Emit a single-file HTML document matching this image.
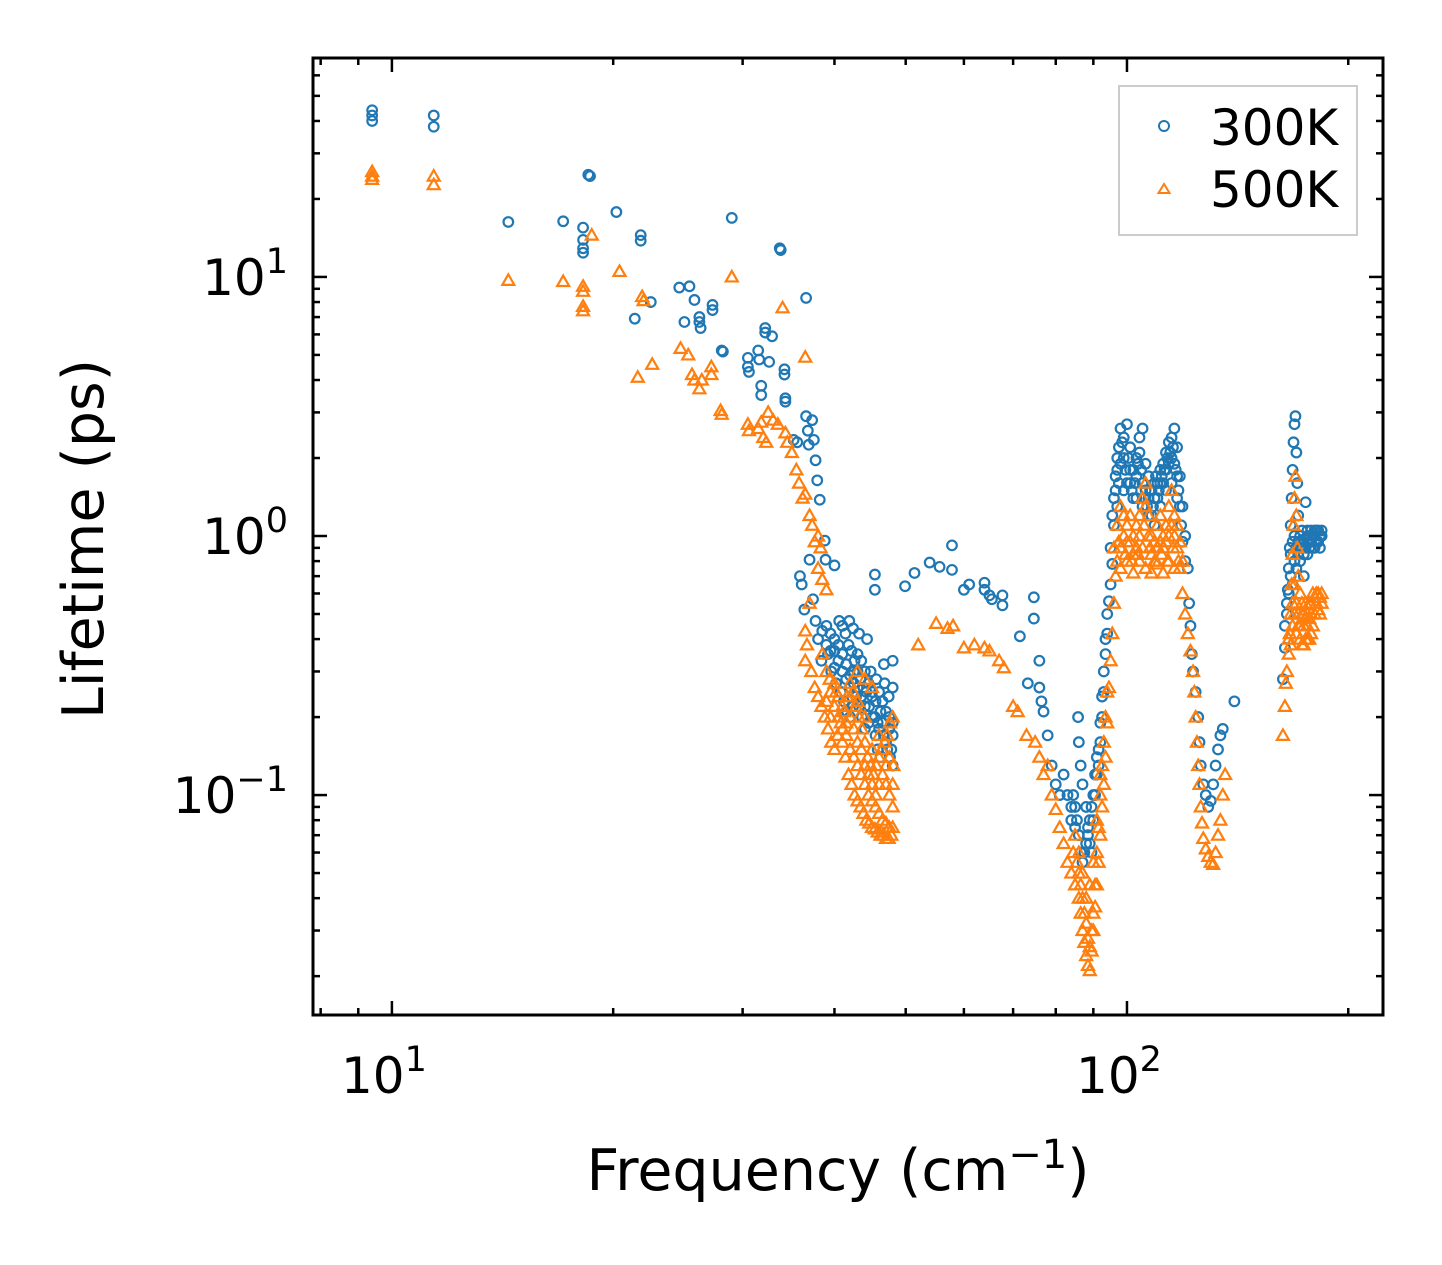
<!DOCTYPE html>
<html><head><meta charset="utf-8">
<style>
html,body{margin:0;padding:0;background:#fff;}
svg{display:block;font-family:"DejaVu Sans","Liberation Sans",sans-serif;}
</style></head>
<body>
<svg id="chart" width="1442" height="1265" viewBox="0 0 1442 1265" xmlns="http://www.w3.org/2000/svg">
<rect width="1442" height="1265" fill="#fff"/>
<g id="marks"></g>
<g id="axes"></g>
<text x="838" y="1190" font-size="57" text-anchor="middle">Frequency (cm<tspan dy="-22" font-size="40">−1</tspan><tspan dy="22">)</tspan></text>
<text transform="translate(103,539) rotate(-90)" font-size="57" text-anchor="middle">Lifetime (ps)</text>
<g>
<rect x="1119" y="86" width="238" height="149" fill="#fff" stroke="#ccc" stroke-width="2"/>
<circle cx="1164" cy="126" r="5" fill="none" stroke="#1f77b4" stroke-width="2"/>
<text x="1210" y="145" font-size="50">300K</text>
<polygon points="1164,184 1169.5,193 1158.5,193" fill="none" stroke="#ff7f0e" stroke-width="2"/>
<text x="1210" y="207" font-size="50">500K</text>
</g>
</svg>
<script>
const xDomain=[7.81,223];
const yDomain=[0.01416,70];
const xMajorTicks=[10,100];
const xMajorLabels=["1","2"];
const yMajorTicks=[0.1,1,10];
const yMajorLabels=["−1","0","1"];
const pts300=[[9.4,44],[9.4,42],[9.4,40],[11.4,42],[11.4,38],[14.4,16.3],[17.1,16.4],[18.2,15.5],[18.2,13.9],[18.2,12.9],[18.2,12.4],[18.5,24.8],[18.6,24.5],[20.2,17.8],[21.8,14.5],[21.8,13.8],[21.4,6.9],[22.5,8.0],[24.6,9.1],[25.4,9.2],[25.0,6.7],[25.8,8.15],[26.2,7.0],[26.2,6.7],[26.3,6.35],[27.3,7.8],[27.3,7.45],[28.1,5.2],[28.2,5.15],[29.0,16.9],[30.5,4.87],[30.5,4.5],[30.6,4.3],[31.5,5.2],[31.6,4.8],[31.8,3.8],[31.8,3.5],[32.2,6.35],[32.2,6.1],[32.9,5.9],[32.6,4.7],[33.7,12.9],[33.8,12.7],[34.2,4.4],[34.2,4.2],[34.3,3.4],[34.3,3.3],[35.2,2.35],[35.6,2.3],[36.6,8.3],[36.6,2.9],[36.8,2.55],[36.9,2.25],[37.3,2.8],[37.5,2.35],[37.7,1.96],[37.9,1.64],[38.2,1.38],[38.8,0.96],[38.9,0.81],[35.9,0.7],[36.1,0.65],[36.4,0.52],[37.0,0.81],[37.4,0.57],[37.7,0.47],[38.0,0.40],[38.4,0.33],[40.0,0.77],[40.0,0.40],[40.6,0.47],[41.0,0.45],[41.4,0.42],[41.8,0.38],[42.2,0.36],[42.6,0.33],[43.0,0.30],[43.4,0.28],[43.8,0.26],[44.2,0.25],[39.2,0.35],[39.6,0.30],[40.2,0.27],[40.8,0.25],[41.2,0.23],[41.6,0.21],[42.0,0.20],[42.4,0.22],[42.8,0.24],[43.2,0.22],[43.6,0.20],[44.0,0.18],[44.6,0.22],[45.0,0.24],[45.4,0.20],[45.8,0.19],[46.2,0.21],[46.7,0.17],[47.2,0.15],[47.6,0.14],[48.0,0.13],[45.4,0.71],[45.4,0.62],[46.7,0.32],[48.0,0.33],[48.0,0.26],[47.4,0.24],[46.8,0.27],[44.8,0.30],[45.6,0.28],[49.9,0.64],[51.4,0.72],[53.9,0.79],[55.6,0.76],[57.8,0.92],[57.8,0.74],[60,0.62],[61,0.65],[64,0.66],[64,0.62],[65,0.59],[65.5,0.57],[67.7,0.59],[67.7,0.54],[71.5,0.41],[73.3,0.27],[74.7,0.58],[74.7,0.48],[76,0.33],[76,0.26],[76.5,0.23],[77,0.21],[78,0.17],[79,0.13],[80,0.11],[81,0.10],[82,0.12],[83,0.10],[84,0.08],[85,0.075],[85.8,0.2],[86,0.16],[86.5,0.13],[87,0.11],[88,0.09],[88.5,0.07],[89,0.065],[89.5,0.06],[90,0.08],[90.5,0.1],[91,0.12],[91.5,0.15],[92,0.19],[92.5,0.24],[93,0.3],[93.5,0.4],[94,0.5],[94.5,0.56],[95,0.65],[95.5,0.78],[96,1.1],[96.5,1.5],[97,1.8],[97.5,2.2],[98,2.6],[99,2.4],[100,2.7],[101,2.2],[102,1.8],[103,2.0],[104,2.4],[105,2.6],[106,1.9],[107,1.7],[108,1.5],[109,1.4],[110,1.6],[111,1.8],[112,1.9],[113,2.1],[114,2.3],[115,2.4],[116,2.6],[117,2.2],[118,1.7],[119,1.3],[97,1.3],[99,1.5],[101,1.6],[103,1.4],[105,1.3],[107,1.2],[109,1.1],[111,1.3],[113,1.5],[115,1.6],[117,1.4],[120,1.0],[121,0.75],[121.5,0.55],[122,0.45],[122.5,0.35],[123,0.3],[124,0.25],[125,0.2],[125.5,0.16],[126,0.13],[127,0.11],[128,0.1],[129,0.09],[130,0.095],[131,0.11],[132,0.13],[133,0.15],[134,0.17],[135,0.18],[140,0.23],[163,0.28],[164,0.37],[165,0.5],[165.5,0.62],[166,0.75],[166.5,0.9],[167,1.1],[167.5,1.4],[168,1.8],[168.5,2.3],[169,2.7],[169.5,2.9],[170,2.1],[170.5,1.6],[171,1.2],[172,1.0],[173,0.9],[174,0.85],[175,1.35],[176,1.0],[177,0.95],[178,1.05],[179,1.0],[180,0.9],[181,1.05],[182,0.95],[183,1.0],[168,0.65],[170,0.75],[172,0.8],[174,0.7]];
const dense300=[[39,0.45],[39.5,0.42],[40,0.36],[40.5,0.33],[41,0.3],[41.5,0.28],[42,0.26],[42.5,0.3],[43,0.35],[43.5,0.33],[44,0.3],[44.5,0.27],[45,0.25],[45.5,0.23],[46,0.25],[46.5,0.23],[47,0.21],[47.5,0.2],[48,0.19],[48,0.17],[47.5,0.18],[47,0.16],[46.5,0.19],[46,0.18],[45.5,0.17],[45,0.2],[44.5,0.19],[44,0.22],[43.5,0.24],[43,0.26],[42.5,0.27],[42,0.29],[41.5,0.32],[41,0.35],[40.5,0.38],[40,0.31],[39.5,0.36],[39,0.38],[38.5,0.43],[44.3,0.4],[43.2,0.42],[42.4,0.44],[41.9,0.47],[45.8,0.15],[46.2,0.14],[47.8,0.15],[84,0.09],[84.5,0.1],[85,0.09],[85.5,0.08],[86,0.07],[86.5,0.06],[87,0.055],[87.5,0.06],[88,0.065],[88.5,0.075],[89,0.08],[89.5,0.09],[90,0.1],[90.5,0.12],[91,0.14],[91.5,0.13],[92,0.16],[92.5,0.2],[93,0.25],[93.5,0.35],[94,0.42],[95,0.9],[95.5,1.2],[96,1.4],[96.5,1.7],[97,2.0],[97.5,1.6],[98,1.9],[98.5,2.3],[99,2.0],[99.5,1.8],[100,1.6],[100.5,2.0],[101,1.8],[101.5,1.5],[102,1.4],[102.5,1.6],[103,1.7],[103.5,1.9],[104,2.1],[104.5,1.8],[105,1.6],[105.5,1.4],[106,1.5],[106.5,1.3],[107,1.4],[107.5,1.5],[108,1.2],[108.5,1.3],[109,1.6],[109.5,1.7],[110,1.4],[110.5,1.5],[111,1.6],[111.5,1.7],[112,1.6],[112.5,1.8],[113,1.8],[113.5,2.0],[114,1.9],[114.5,2.1],[115,2.0],[115.5,2.2],[116,1.9],[116.5,1.8],[117,1.7],[117.5,1.5],[118,1.3],[118.5,1.1],[119,0.95],[120,0.8],[164,0.45],[165,0.55],[166,0.6],[167,0.7],[167,0.85],[168,0.95],[169,0.8],[169,1.0],[170,0.9],[171,0.85],[171,0.95],[172,0.9],[173,0.95],[173,1.05],[174,0.95],[175,0.9],[176,0.85],[176,1.05],[177,0.9],[178,0.95],[179,0.9],[180,1.05],[181,0.95],[182,1.05],[183,0.9],[184,1.0],[184,1.05]];
const pts500=[[9.4,25.5],[9.4,24.5],[9.4,23.8],[11.4,24.5],[11.4,22.7],[14.4,9.7],[17.1,9.6],[18.2,9.2],[18.2,7.7],[18.2,7.4],[18.2,8.8],[18.7,14.5],[20.4,10.5],[21.6,4.1],[21.9,8.4],[22.0,8.1],[22.6,4.6],[24.7,5.3],[25.3,5.0],[25.8,4.0],[25.6,4.2],[26.2,3.7],[26.4,4.0],[27.2,4.5],[27.2,4.2],[28,3.05],[28.1,2.95],[29,10],[30.5,2.7],[30.6,2.55],[31.5,2.6],[31.8,2.75],[32,2.4],[32.3,2.3],[32.5,3.0],[33.0,2.8],[33.5,2.7],[34,7.6],[34.3,2.5],[34.5,2.3],[35.0,2.1],[35.5,1.8],[35.8,1.6],[36.2,1.4],[36.5,4.9],[36.5,1.45],[37,1.2],[37.3,1.1],[37.6,0.95],[38,1.0],[38.3,0.9],[38,0.75],[38.5,0.68],[39,0.62],[37,0.55],[36.5,0.43],[36.5,0.33],[36.7,0.38],[37.2,0.3],[37.6,0.26],[38.0,0.24],[38.4,0.22],[38.8,0.2],[39.2,0.18],[39.6,0.16],[40.0,0.15],[40.4,0.17],[40.8,0.19],[41.2,0.21],[41.6,0.24],[42.0,0.27],[42.4,0.25],[42.8,0.22],[43.2,0.2],[43.6,0.18],[44,0.16],[44.4,0.14],[44.8,0.13],[45.2,0.12],[45.6,0.13],[46,0.14],[46.4,0.15],[46.8,0.16],[47.2,0.17],[47.6,0.19],[48,0.2],[39.4,0.28],[40.2,0.25],[41.0,0.16],[41.4,0.14],[41.8,0.12],[42.2,0.11],[42.6,0.1],[43,0.095],[43.4,0.09],[43.8,0.085],[44.2,0.08],[44.6,0.078],[45,0.075],[45.4,0.074],[45.8,0.072],[46.2,0.07],[46.6,0.07],[47,0.068],[47.4,0.068],[47.8,0.07],[48,0.075],[43,0.3],[44,0.28],[45,0.26],[47.5,0.14],[48.1,0.13],[52,0.38],[55,0.46],[57,0.44],[58,0.45],[60,0.37],[62,0.38],[64,0.37],[65,0.36],[67,0.33],[68,0.31],[70,0.22],[71,0.21],[73,0.17],[75,0.16],[76,0.14],[77,0.12],[78,0.13],[79,0.1],[80,0.088],[81,0.075],[82,0.065],[83,0.055],[84,0.05],[85,0.045],[86,0.04],[86.5,0.035],[87,0.03],[87.5,0.027],[88,0.024],[88.5,0.022],[89,0.021],[89.5,0.025],[90,0.03],[90.5,0.037],[91,0.045],[91.5,0.055],[92,0.07],[92.5,0.09],[93,0.11],[93.5,0.14],[94,0.19],[94.5,0.26],[95,0.33],[95.5,0.42],[96,0.55],[96.5,0.7],[97,0.8],[98,0.9],[99,1.0],[100,1.1],[101,0.95],[102,0.85],[103,0.9],[104,1.2],[105,1.4],[106,1.6],[107,1.0],[108,0.85],[109,0.8],[110,0.9],[111,0.95],[112,1.0],[113,1.1],[114,1.3],[115,1.5],[116,1.2],[117,0.9],[118,0.75],[119,0.6],[98,0.75],[100,0.8],[102,0.72],[104,0.8],[106,0.75],[108,0.72],[110,0.78],[112,0.72],[114,0.8],[116,0.75],[120,0.5],[121,0.42],[122,0.36],[123,0.3],[123.5,0.25],[124,0.2],[124.5,0.16],[125,0.13],[125.5,0.11],[126,0.09],[126.5,0.078],[127,0.068],[128,0.062],[129,0.058],[130,0.055],[131,0.054],[132,0.06],[133,0.07],[134,0.08],[135,0.1],[136,0.12],[163,0.17],[164,0.22],[164.5,0.27],[165,0.3],[166,0.35],[166.5,0.42],[167,0.5],[167.5,0.65],[168,0.85],[168.5,1.1],[169,1.4],[169.5,1.7],[170,1.2],[170.5,0.9],[171,0.7],[172,0.6],[173,0.5],[174,0.45],[175,0.55],[176,0.5],[177,0.48],[178,0.55],[179,0.6],[180,0.58],[181,0.55],[182,0.6],[183,0.58],[168,0.45],[170,0.42],[172,0.4],[174,0.38],[176,0.4],[178,0.42]];
const dense500=[[38.5,0.35],[39,0.3],[39.5,0.25],[40,0.22],[40.5,0.2],[41,0.18],[41.5,0.17],[42,0.15],[42.5,0.14],[43,0.13],[43.5,0.12],[44,0.11],[44.5,0.1],[45,0.095],[45.5,0.09],[46,0.085],[46.5,0.08],[47,0.078],[47.5,0.075],[48,0.09],[47.5,0.1],[47,0.11],[46.5,0.12],[46,0.11],[45.5,0.1],[45,0.11],[44.5,0.12],[44,0.13],[43.5,0.15],[43,0.16],[42.5,0.18],[42,0.2],[41.5,0.19],[41,0.22],[40.5,0.24],[40,0.27],[39.5,0.2],[39,0.23],[45,0.15],[46,0.17],[47,0.13],[48,0.11],[44,0.2],[43,0.23],[42,0.24],[84.5,0.06],[85,0.07],[85.5,0.055],[86,0.05],[86.5,0.045],[87,0.04],[87.5,0.035],[88,0.032],[88.5,0.028],[89,0.026],[89.5,0.03],[90,0.035],[90.5,0.045],[91,0.06],[91.5,0.075],[92,0.1],[92.5,0.13],[93,0.16],[93.5,0.2],[94,0.25],[88,0.04],[89,0.045],[90,0.055],[91,0.08],[92,0.12],[87,0.05],[86,0.06],[96,0.9],[97,1.1],[97.5,0.95],[98,1.3],[99,1.2],[99.5,0.85],[100,0.95],[101,1.2],[101.5,0.8],[102,1.0],[103,1.1],[103.5,0.85],[104,1.0],[105,0.9],[105.5,1.1],[106,1.3],[107,1.2],[107.5,0.9],[108,1.0],[109,0.95],[109.5,0.8],[110,1.1],[111,1.2],[111.5,0.85],[112,0.9],[113,0.95],[113.5,0.8],[114,1.0],[115,1.1],[115.5,0.9],[116,1.0],[117,1.1],[117.5,0.8],[118,0.95],[119,0.8],[166,0.4],[167,0.38],[168,0.55],[169,0.5],[169,0.65],[170,0.55],[171,0.45],[171,0.5],[172,0.45],[173,0.38],[173,0.55],[174,0.5],[175,0.4],[175,0.48],[176,0.45],[177,0.55],[177,0.4],[178,0.5],[179,0.45],[180,0.5],[181,0.6],[182,0.52],[183,0.5],[184,0.55],[184,0.6]];

const L={x0:313,x1:1383,y0:58,y1:1015};
const lg=Math.log10;
function sx(v){return L.x0+(lg(v)-lg(xDomain[0]))/(lg(xDomain[1])-lg(xDomain[0]))*(L.x1-L.x0);}
function sy(v){return L.y1-(lg(v)-lg(yDomain[0]))/(lg(yDomain[1])-lg(yDomain[0]))*(L.y1-L.y0);}
const NS="http://www.w3.org/2000/svg";
const marks=document.getElementById('marks');
const axes=document.getElementById('axes');
function mk(tag,attrs,parent){const e=document.createElementNS(NS,tag);for(const k in attrs)e.setAttribute(k,attrs[k]);parent.appendChild(e);return e;}

pts300.concat(dense300).forEach(p=>{
  const c=mk('circle',{cx:sx(p[0]),cy:sy(p[1]),r:4.8,fill:'none',stroke:'#1f77b4','stroke-width':2.2},marks);
  
  
});
pts500.concat(dense500).forEach(p=>{
  const x=sx(p[0]),y=sy(p[1]);
  const t=mk('polygon',{points:`${x},${y-6} ${x+6},${y+4.5} ${x-6},${y+4.5}`,fill:'none',stroke:'#ff7f0e','stroke-width':2.2},marks);
  
  
});

const frame=mk('rect',{x:L.x0,y:L.y0,width:L.x1-L.x0,height:L.y1-L.y0,fill:'none',stroke:'#000','stroke-width':3},axes);



function tick(x1,y1,x2,y2){const t=mk('line',{x1,y1,x2,y2,stroke:'#000','stroke-width':2.5},axes);}
for(let d=0;d<=2;d++){for(let m=1;m<10;m++){const v=m*Math.pow(10,d);if(v<xDomain[0]||v>xDomain[1])continue;const x=sx(v);const len=m===1?14:7;tick(x,L.y1,x,L.y1-len);tick(x,L.y0,x,L.y0+len);}}
for(let d=-2;d<=1;d++){for(let m=1;m<10;m++){const v=m*Math.pow(10,d);if(v<yDomain[0]||v>yDomain[1])continue;const y=sy(v);const len=m===1?14:7;tick(L.x0,y,L.x0+len,y);tick(L.x1,y,L.x1-len,y);}}
xMajorTicks.forEach((v,i)=>{
  const t=mk('text',{x:sx(v)-8,y:1093,'font-size':50,'text-anchor':'middle'},axes);
  
  
  t.innerHTML='10<tspan dy="-22" font-size="35">'+xMajorLabels[i]+'</tspan>';
});
yMajorTicks.forEach((v,i)=>{
  const t=mk('text',{x:288,y:sy(v)+18,'font-size':50,'text-anchor':'end'},axes);
  
  
  t.innerHTML='10<tspan dy="-22" font-size="35">'+yMajorLabels[i]+'</tspan>';
});
</script>
</body></html>
